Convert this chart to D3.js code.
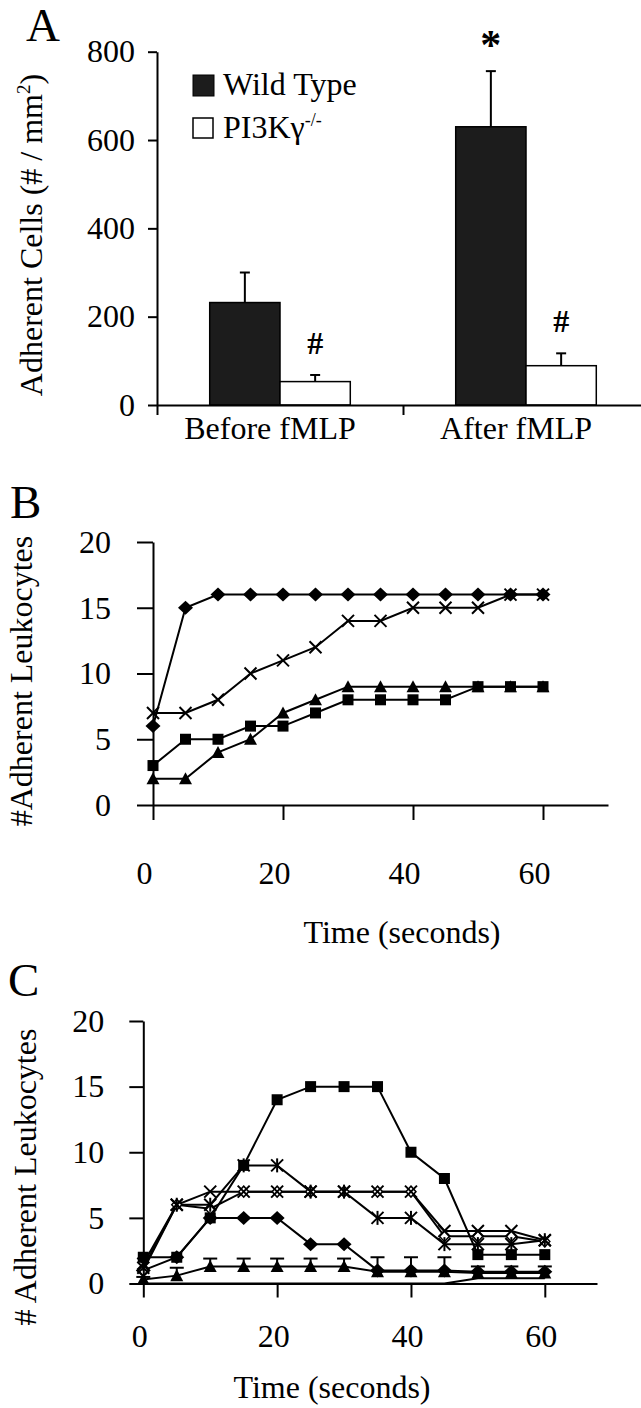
<!DOCTYPE html>
<html><head><meta charset="utf-8">
<script src="https://cdn.jsdelivr.net/npm/d3@7"></script>
<style>
html,body{margin:0;padding:0;background:#fff;}
svg{display:block;}
text{font-family:'Liberation Serif','Times New Roman',Times,serif;fill:#000;}
</style>
</head><body>
<svg id="chart" width="641" height="1408"></svg>
<script>
// ---------- Panel A data ----------
const categories = ["Before fMLP", "After fMLP"];
const seriesA = ["Wild Type", "PI3Kγ-/-"];
const wildType = [232, 630];
const wildTypeErr = [68, 126];
const pi3kKO = [53, 89];
const pi3kKOErr = [15, 28];
const sigWildType = ["", "*"];
const sigKO = ["#", "#"];
const yTicksA = [0, 200, 400, 600, 800];

// ---------- Panel B data ----------
const timeB = [0, 5, 10, 15, 20, 25, 30, 35, 40, 45, 50, 55, 60];
const bDiamond = [6, 15, 16, 16, 16, 16, 16, 16, 16, 16, 16, 16, 16];
const bSquare = [3, 5, 5, 6, 6, 7, 8, 8, 8, 8, 9, 9, 9];
const bTriangle = [2, 2, 4, 5, 7, 8, 9, 9, 9, 9, 9, 9, 9];
const bCross = [7, 7, 8, 10, 11, 12, 14, 14, 15, 15, 15, 16, 16];

// ---------- Panel C data ----------
const timeC = [0, 5, 10, 15, 20, 25, 30, 35, 40, 45, 50, 55, 60];
const cZero = [0, 0, 0, 0, 0, 0, 0, 0, 0, 0, 0.4, 0.4, 0.4];
const cTriangle = [0.3, 0.6, 1.3, 1.3, 1.3, 1.3, 1.3, 0.9, 0.9, 0.9, 0.8, 0.8, 0.8];
const cTriangleErr = [0.2, 0.6, 0.6, 0.6, 0.6, 0.6, 0.6, 1.1, 1.1, 1.1, 0.5, 0.5, 0.5];
const cDiamond = [1, 2, 5, 5, 5, 3, 3, 1, 1, 1, 0.9, 0.9, 0.9];
const cOpenDiamond = [1, 6, 5.7, 7, 7, 7, 7, 7, 7, 3.6, 3.6, 3.6, 3.2];
const cCross = [1.2, 6, 7, 7, 7, 7, 7, 7, 7, 4, 4, 4, 3.3];
const cAsterisk = [1.5, 6, 6, 9, 9, 7, 7, 5, 5, 3, 3, 3, 3.3];
const cSquare = [2, 2, 5, 9, 14, 15, 15, 15, 10, 8, 2.2, 2.2, 2.2];

const yTicksLeuk = [0, 5, 10, 15, 20];
const xTicksTime = [0, 20, 40, 60];

// ---------- drawing ----------
const svg = d3.select("#chart");
svg.append("rect").attr("width", 641).attr("height", 1408).attr("fill", "#fff");
const FS = 32;

function styleAxis(g) {
  g.select(".domain").attr("stroke", "#000").attr("stroke-width", 2);
  g.selectAll(".tick line").attr("stroke", "#000").attr("stroke-width", 2);
  g.selectAll(".tick text").attr("font-size", FS).attr("fill", "#000")
    .attr("font-family", "'Liberation Serif','Times New Roman',serif");
}

function panelLetter(t, x, y) {
  svg.append("text").attr("x", x).attr("y", y).attr("font-size", 47).text(t);
}

function rotTitle(x, y, build) {
  const t = svg.append("text").attr("transform", `translate(${x},${y}) rotate(-90)`)
    .attr("text-anchor", "middle").attr("font-size", FS);
  build(t);
}

// ===== Panel A =====
panelLetter("A", 26, 41);
const xA = d3.scaleBand().domain(categories).range([157, 649]).paddingInner(0).paddingOuter(0);
const xA1 = d3.scaleBand().domain(seriesA).range([0, xA.bandwidth()]).paddingInner(0).paddingOuter(0.75);
const yA = d3.scaleLinear().domain([0, 800]).range([405, 51.7]);
const xABound = d3.scaleLinear().domain([0, categories.length]).range([157, 649]);

const aRows = categories.map((c, i) => ({
  cat: c,
  vals: [
    { s: seriesA[0], v: wildType[i], e: wildTypeErr[i], sig: sigWildType[i], fill: "#1c1c1c" },
    { s: seriesA[1], v: pi3kKO[i], e: pi3kKOErr[i], sig: sigKO[i], fill: "#fff" }
  ]
}));

const gBars = svg.append("g");
aRows.forEach(r => {
  r.vals.forEach(d => {
    const x0 = xA(r.cat) + xA1(d.s);
    const w = xA1.bandwidth();
    const cx = x0 + w / 2;
    gBars.append("line").attr("x1", cx).attr("x2", cx).attr("y1", yA(d.v)).attr("y2", yA(d.v + d.e))
      .attr("stroke", "#000").attr("stroke-width", 2);
    gBars.append("line").attr("x1", cx - 5).attr("x2", cx + 5).attr("y1", yA(d.v + d.e)).attr("y2", yA(d.v + d.e))
      .attr("stroke", "#000").attr("stroke-width", 2);
    gBars.append("rect").attr("x", x0).attr("y", yA(d.v)).attr("width", w).attr("height", yA(0) - yA(d.v))
      .attr("fill", d.fill).attr("stroke", "#000").attr("stroke-width", 1.5);
    if (d.sig) {
      const gap = d.sig === "*" ? 12 : 21;
      svg.append("text").attr("x", cx).attr("y", yA(d.v + d.e) - gap).attr("text-anchor", "middle")
        .attr("font-size", d.sig === "*" ? 42 : 32).attr("font-weight", "bold").text(d.sig);
    }
  });
});

const gyA = svg.append("g").attr("transform", "translate(157,0)")
  .call(d3.axisLeft(yA).tickValues(yTicksA).tickSize(9).tickSizeOuter(0).tickPadding(13));
styleAxis(gyA);
const gxA = svg.append("g").attr("transform", `translate(0,${yA(0)})`)
  .call(d3.axisBottom(xABound).tickValues(d3.range(categories.length + 1)).tickSize(10).tickSizeOuter(0).tickFormat(""));
styleAxis(gxA);

categories.forEach(c => {
  svg.append("text").attr("x", xA(c) + xA.bandwidth() / 2 - 10).attr("y", 439)
    .attr("text-anchor", "middle").attr("font-size", FS).text(c);
});

// legend
const legA = svg.append("g");
legA.append("rect").attr("x", 193).attr("y", 75).attr("width", 21).attr("height", 21).attr("fill", "#1c1c1c").attr("stroke", "#000");
legA.append("text").attr("x", 223).attr("y", 95).attr("font-size", FS).text(seriesA[0]);
legA.append("rect").attr("x", 193).attr("y", 118).attr("width", 20).attr("height", 20).attr("fill", "#fff").attr("stroke", "#000").attr("stroke-width", 1.5);
const koT = legA.append("text").attr("x", 223).attr("y", 138).attr("font-size", FS).text("PI3Kγ");
koT.append("tspan").attr("font-size", 18).attr("dy", -12).text("-/-");

rotTitle(42, 235, t => {
  t.append("tspan").text("Adherent Cells (# / mm");
  t.append("tspan").attr("font-size", 19).attr("dy", -12).text("2");
  t.append("tspan").attr("dy", 12).text(")");
});

// ===== line panels =====
function drawMarker(g, type, cx, cy) {
  const m = g.append("g").attr("transform", `translate(${cx},${cy})`);
  if (type === "diamond") {
    m.append("path").attr("d", "M0,-7L7.5,0L0,7L-7.5,0Z").attr("fill", "#000");
  } else if (type === "openDiamond") {
    m.append("path").attr("d", "M0,-5.5L5,0L0,5.5L-5,0Z").attr("fill", "#fff").attr("stroke", "#000").attr("stroke-width", 1.5);
  } else if (type === "square") {
    m.append("rect").attr("x", -5.5).attr("y", -5.5).attr("width", 11).attr("height", 11).attr("fill", "#000");
  } else if (type === "triangle") {
    m.append("path").attr("d", "M0,-6.5L6.5,5.5L-6.5,5.5Z").attr("fill", "#000");
  } else if (type === "cross" || type === "asterisk") {
    m.append("path").attr("d", "M-6,-6L6,6M-6,6L6,-6").attr("stroke", "#000").attr("stroke-width", 2).attr("fill", "none");
    if (type === "asterisk") m.append("path").attr("d", "M0,-7L0,7").attr("stroke", "#000").attr("stroke-width", 2);
  }
}

function linePanel(cfg) {
  const x = d3.scaleLinear().domain(cfg.xDomain).range(cfg.xRange);
  const y = d3.scaleLinear().domain([0, 20]).range(cfg.yRange);
  const line = d3.line().x(d => x(d.t)).y(d => y(d.v));
  const gL = svg.append("g");
  cfg.series.forEach(s => {
    const pts = cfg.time.map((t, i) => ({ t, v: s.values[i], e: s.err ? s.err[i] : 0 }));
    gL.append("path").attr("d", line(pts)).attr("fill", "none").attr("stroke", "#000").attr("stroke-width", 2);
    if (s.err) {
      pts.forEach(p => {
        gL.append("line").attr("x1", x(p.t)).attr("x2", x(p.t)).attr("y1", y(p.v)).attr("y2", y(p.v + p.e)).attr("stroke", "#000").attr("stroke-width", 2);
        gL.append("line").attr("x1", x(p.t) - 7).attr("x2", x(p.t) + 7).attr("y1", y(p.v + p.e)).attr("y2", y(p.v + p.e)).attr("stroke", "#000").attr("stroke-width", 2);
      });
    }
  });
  cfg.series.forEach(s => {
    if (!s.marker) return;
    cfg.time.forEach((t, i) => drawMarker(gL, s.marker, x(t), y(s.values[i])));
  });
  const gy = svg.append("g").attr("transform", `translate(${cfg.xRange[0]},0)`)
    .call(d3.axisLeft(y).tickValues(yTicksLeuk).tickSize(cfg.yTick).tickSizeOuter(0).tickPadding(cfg.yPad));
  styleAxis(gy);
  const gx = svg.append("g").attr("transform", `translate(0,${cfg.yRange[0]})`)
    .call(d3.axisBottom(x).tickValues(xTicksTime).tickSize(cfg.xTick).tickSizeOuter(0));
  styleAxis(gx);
  gx.selectAll(".tick text").attr("y", cfg.xLabelBase - cfg.yRange[0]).attr("dy", 0).attr("dx", cfg.xLabelDx);
  svg.append("text").attr("x", cfg.titleX).attr("y", cfg.titleY).attr("text-anchor", "middle").attr("font-size", FS).text("Time (seconds)");
}

// ===== Panel B =====
panelLetter("B", 10, 518);
linePanel({
  time: timeB,
  xDomain: [0, 70], xRange: [153, 608],
  yRange: [805, 542],
  yTick: 16, yPad: 26, xTick: 15, xLabelBase: 884, xLabelDx: -9,
  titleX: 402, titleY: 943,
  series: [
    { values: bDiamond, marker: "diamond" },
    { values: bSquare, marker: "square" },
    { values: bTriangle, marker: "triangle" },
    { values: bCross, marker: "cross" }
  ]
});
rotTitle(32, 681, t => t.text("#Adherent Leukocytes"));

// ===== Panel C =====
panelLetter("C", 8, 996);
linePanel({
  time: timeC,
  xDomain: [0, 67.8], xRange: [143.3, 597],
  yRange: [1283.5, 1021],
  yTick: 14, yPad: 25, xTick: 14, xLabelBase: 1347, xLabelDx: -4,
  titleX: 332, titleY: 1398,
  series: [
    { values: cZero, marker: null },
    { values: cTriangle, err: cTriangleErr, marker: "triangle" },
    { values: cDiamond, marker: "diamond" },
    { values: cOpenDiamond, marker: "openDiamond" },
    { values: cCross, marker: "cross" },
    { values: cAsterisk, marker: "asterisk" },
    { values: cSquare, marker: "square" }
  ]
});
rotTitle(36, 1177, t => t.text("# Adherent Leukocytes"));
</script>
</body></html>
